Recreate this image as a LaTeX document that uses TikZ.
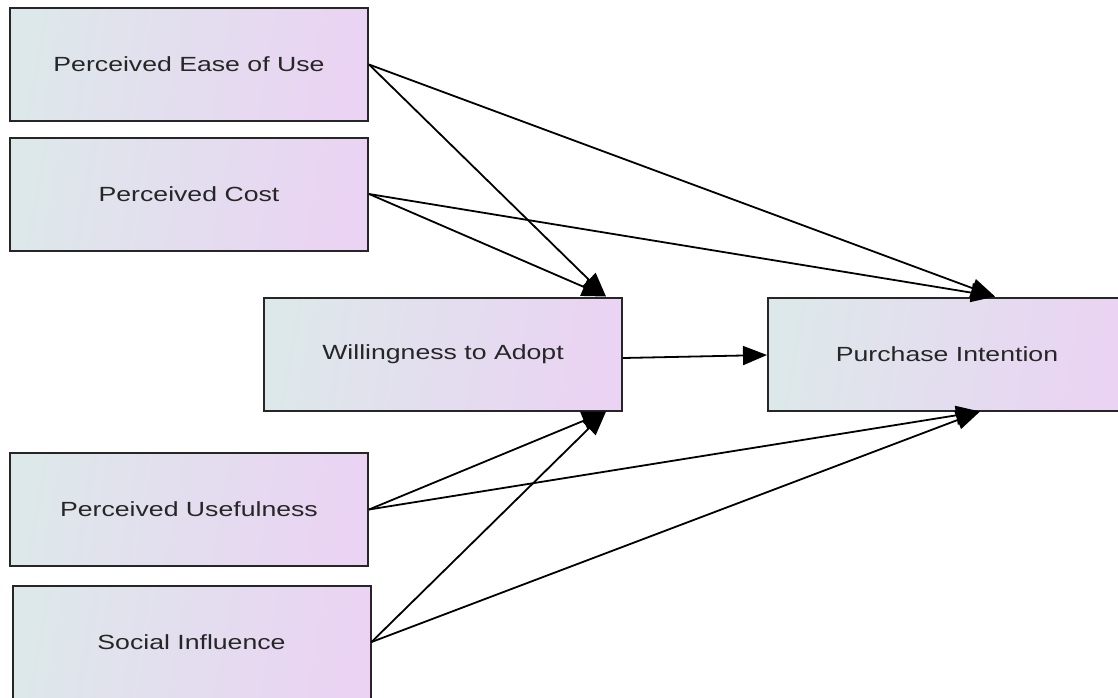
\documentclass[tikz,border=0pt]{standalone}
\usepackage{fontspec}
\setmainfont{Liberation Sans}[FakeStretch=1.3]
\usetikzlibrary{arrows.meta}
\definecolor{boxleft}{HTML}{DDE8EA}
\definecolor{boxright}{HTML}{EAD3F3}
\begin{document}
\begin{tikzpicture}[x=1pt,y=-1pt,
  factor/.style={draw=black!85, line width=2pt, rectangle, minimum width=358pt, minimum height=113pt,
    left color=boxleft, right color=boxright, shading angle=80, font=\fontsize{20.5}{24}\selectfont, text=black!85},
  link/.style={line width=1.8pt, draw=black, -{Triangle[length=24pt,width=19pt]}}]
\useasboundingbox (0,0) rectangle (1118,697);
\clip (0,0) rectangle (1118,697);
\node[factor] (peu) at (189,64.5) {Perceived Ease of Use};
\node[factor] (pc) at (189,194) {Perceived Cost};
\node[factor] (wta) at (443,354) {Willingness to Adopt};
\node[factor] (pi) at (947,354) {Purchase Intention};
\node[factor] (pu) at (189,509.5) {Perceived Usefulness};
\node[factor] (si) at (191.5,642) {Social Influence};
\draw[link] (peu.east) -- ([xshift=-17pt]wta.north east);
\draw[link] (peu.east) -- ([xshift=48pt]pi.north);
\draw[link] (pc.east) -- ([xshift=-17pt]wta.north east);
\draw[link] (pc.east) -- ([xshift=48pt]pi.north);
\draw[link] ([yshift=-4pt]wta.east) -- ([yshift=-1pt]pi.west);
\draw[link] (pu.east) -- ([xshift=-17pt]wta.south east);
\draw[link] (pu.east) -- ([xshift=33pt]pi.south);
\draw[link] (si.east) -- ([xshift=-17pt]wta.south east);
\draw[link] (si.east) -- ([xshift=33pt]pi.south);
\end{tikzpicture}
\end{document}
